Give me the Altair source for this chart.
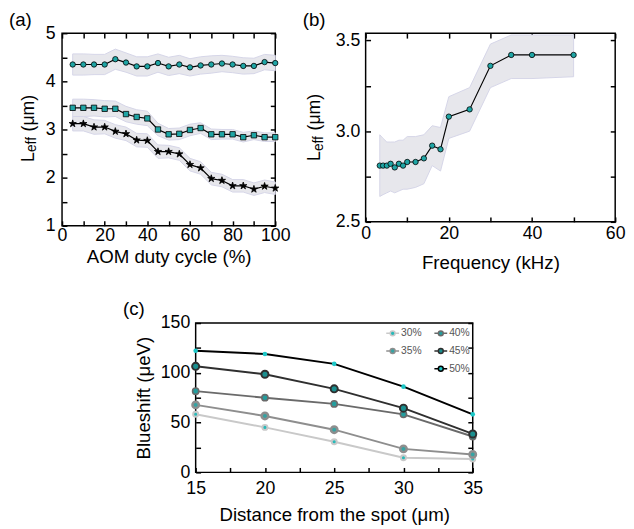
import altair as alt
import pandas as pd

# ---------------- data: panel (a) ----------------
duty = [5, 10, 15, 20, 25, 30, 35, 40, 45, 50, 55, 60, 65, 70, 75, 80, 85, 90, 95, 100]
leff_circle = [4.35, 4.35, 4.35, 4.35, 4.46, 4.39, 4.31, 4.31, 4.38, 4.31,
               4.35, 4.29, 4.33, 4.35, 4.37, 4.35, 4.32, 4.32, 4.40, 4.38]
leff_square = [3.45, 3.45, 3.45, 3.43, 3.43, 3.32, 3.26, 3.23, 3.00, 2.90,
               2.91, 2.99, 3.03, 2.90, 2.90, 2.90, 2.84, 2.88, 2.84, 2.84]
leff_star = [3.12, 3.12, 3.05, 3.05, 2.96, 2.91, 2.78, 2.77, 2.54, 2.54,
             2.49, 2.27, 2.20, 1.98, 1.94, 1.83, 1.83, 1.76, 1.82, 1.78]
err_circle = [0.22, 0.22, 0.21, 0.21, 0.21, 0.20, 0.20, 0.20, 0.19, 0.19,
              0.19, 0.18, 0.18, 0.18, 0.17, 0.17, 0.17, 0.16, 0.16, 0.16]
err_square = [0.18, 0.18, 0.17, 0.17, 0.16, 0.16, 0.15, 0.15, 0.13, 0.12,
              0.12, 0.12, 0.11, 0.11, 0.10, 0.10, 0.10, 0.09, 0.09, 0.09]
err_star = [0.15, 0.15, 0.15, 0.14, 0.14, 0.14, 0.14, 0.14, 0.14, 0.13,
            0.13, 0.13, 0.13, 0.13, 0.13, 0.13, 0.13, 0.13, 0.13, 0.13]

# ---------------- data: panel (b) ----------------
freq = [3.4, 4.2, 5.1, 6, 7, 8, 9, 10, 12, 14, 16, 18, 20, 25, 30, 35, 40, 50]
leff_freq = [2.81, 2.81, 2.81, 2.82, 2.80, 2.82, 2.81, 2.83, 2.83, 2.85,
             2.92, 2.90, 3.08, 3.12, 3.36, 3.42, 3.42, 3.42]
leff_freq_hi = [2.98, 2.96, 2.94, 2.94, 2.94, 2.95, 2.95, 2.97, 2.97, 2.98,
                3.03, 3.02, 3.19, 3.24, 3.48, 3.53, 3.53, 3.53]
leff_freq_lo = [2.64, 2.65, 2.66, 2.67, 2.66, 2.67, 2.68, 2.68, 2.69, 2.71,
                2.81, 2.78, 2.96, 3.00, 3.24, 3.29, 3.29, 3.30]

# ---------------- data: panel (c) ----------------
dist = [15, 20, 25, 30, 35]
shift_30 = [58.3, 45.2, 30.8, 14.7, 13.4]
shift_35 = [67.8, 56.7, 42.9, 23.6, 18.0]
shift_40 = [81.6, 75.0, 68.8, 58.3, 36.0]
shift_45 = [106.5, 98.6, 83.9, 64.5, 38.6]
shift_50 = [122.2, 118.9, 109.0, 86.1, 58.3]
c_labels = ["30%", "35%", "40%", "45%", "50%"]

FONT = "Liberation Sans"
TEAL = "#1fa5a5"
BAND_FILL = "#e7e7ec"
BAND_EDGE = "#d5d5e8"
STAR = ("M0,-1L0.2245,-0.309L0.951,-0.309L0.363,0.118L0.588,0.809L0,0.382"
        "L-0.588,0.809L-0.363,0.118L-0.951,-0.309L-0.2245,-0.309Z")
LEG_SYM = ("M-1,0H-0.38M0.38,0H1M0.38,0A0.38,0.38,0,1,1,-0.38,0"
           "A0.38,0.38,0,1,1,0.38,0Z")
TICK = 5


def axis_main(values, label_expr, title, orient, label_pad, title_pad):
    return alt.Axis(values=values, labelExpr=label_expr, title=title, orient=orient,
                    offset=-TICK, tickSize=TICK, domain=False, grid=False,
                    labelPadding=label_pad, titlePadding=title_pad,
                    labelFlush=False, labelOverlap=False)


def axis_mirror(values, orient):
    return alt.Axis(values=values, labels=False, title=None, orient=orient,
                    offset=-TICK, tickSize=TICK, domain=False, grid=False)


def text_layer(txt, x, y, size, angle=0):
    return alt.Chart(pd.DataFrame({"t": [txt]})).mark_text(
        align="left", baseline="alphabetic", fontSize=size, font=FONT,
        angle=angle, color="black"
    ).encode(x=alt.value(x), y=alt.value(y), text="t:N")


def leff_title(xb, yb):
    # rotated "L_eff (μm)" with a subscript
    return [
        text_layer("L", xb, yb, 18, 270),
        text_layer("eff", xb + 3, yb - 10, 14, 270),
        text_layer("(μm)", xb, yb - 31, 18, 270),
    ]


# ---------------- panel (a) ----------------
xa = alt.Scale(domain=[0, 100], nice=False, zero=False)
ya = alt.Scale(domain=[1, 5], nice=False, zero=False)
xa_vals = list(range(0, 101, 10))
ya_vals = [1, 1.5, 2, 2.5, 3, 3.5, 4, 4.5, 5]

layers_a = []
point_layers_a = []
for vals, errs, shape, fill, size in [(leff_circle, err_circle, "circle", TEAL, 30),
                                      (leff_square, err_square, "square", TEAL, 30),
                                      (leff_star, err_star, STAR, "black", 60)]:
    d = pd.DataFrame({"duty": duty, "leff": vals,
                      "lo": [v - e for v, e in zip(vals, errs)],
                      "hi": [v + e for v, e in zip(vals, errs)]})
    layers_a.append(alt.Chart(d).mark_area(fill=BAND_FILL, stroke=BAND_EDGE, strokeWidth=1).encode(
        x=alt.X("duty:Q", scale=xa, axis=None),
        y=alt.Y("lo:Q", scale=ya, axis=None),
        y2="hi:Q",
    ))
    layers_a.append(alt.Chart(d).mark_line(color="black", strokeWidth=1.2).encode(
        x=alt.X("duty:Q", scale=xa, axis=None),
        y=alt.Y("leff:Q", scale=ya, axis=None),
    ))
    point_layers_a.append(alt.Chart(d).mark_point(
        filled=True, fill=fill, stroke="black", strokeWidth=0.8, opacity=1,
        shape=shape, size=size
    ).encode(
        x=alt.X("duty:Q", scale=xa, axis=None),
        y=alt.Y("leff:Q", scale=ya, axis=None),
    ))

df_a_axis = pd.DataFrame({"duty": duty, "leff": leff_circle})
axes_a = alt.Chart(df_a_axis).mark_point(opacity=0).encode(
    x=alt.X("duty:Q", scale=xa,
            axis=axis_main(xa_vals, "datum.value % 20 == 0 ? datum.label : ''",
                           "AOM duty cycle (%)", "bottom", 1, 3)),
    y=alt.Y("leff:Q", scale=ya,
            axis=axis_main(ya_vals, "datum.value % 1 == 0 ? format(datum.value, 'd') : ''",
                           None, "left", 7, 5)),
)
mir_a = alt.Chart(df_a_axis).mark_point(opacity=0).encode(
    x=alt.X("duty:Q", scale=xa, axis=axis_mirror(xa_vals, "top")),
    y=alt.Y("leff:Q", scale=ya, axis=axis_mirror(ya_vals, "right")),
)
panel_a = alt.layer(
    *layers_a, *point_layers_a, axes_a, mir_a,
    *leff_title(-29, 131),
    text_layer("(a)", -54, -7, 19),
).resolve_axis(x="independent", y="independent").properties(width=217, height=196)

# ---------------- panel (b) ----------------
df_b = pd.DataFrame({"freq": freq, "leff": leff_freq, "lo": leff_freq_lo, "hi": leff_freq_hi})
xb = alt.Scale(domain=[0, 60], nice=False, zero=False)
yb = alt.Scale(domain=[2.5, 3.54], nice=False, zero=False)
xb_vals = list(range(0, 61, 10))
yb_vals = [2.5, 2.75, 3.0, 3.25, 3.5]

band_b = alt.Chart(df_b).mark_area(fill=BAND_FILL, stroke=BAND_EDGE, strokeWidth=1).encode(
    x=alt.X("freq:Q", scale=xb, axis=None),
    y=alt.Y("lo:Q", scale=yb, axis=None),
    y2="hi:Q",
)
line_b = alt.Chart(df_b).mark_line(color="black", strokeWidth=1.2).encode(
    x=alt.X("freq:Q", scale=xb, axis=None),
    y=alt.Y("leff:Q", scale=yb, axis=None),
)
pts_b = alt.Chart(df_b).mark_point(filled=True, fill=TEAL, stroke="black", strokeWidth=0.8,
                                    opacity=1, size=30, shape="circle").encode(
    x=alt.X("freq:Q", scale=xb,
            axis=axis_main(xb_vals, "datum.value % 20 == 0 ? datum.label : ''",
                           "Frequency (kHz)", "bottom", 3, 12)),
    y=alt.Y("leff:Q", scale=yb,
            axis=axis_main(yb_vals, "(datum.value * 2) % 1 == 0 ? format(datum.value, '.1f') : ''",
                           None, "left", 6, 5)),
)
mir_b = alt.Chart(df_b).mark_point(opacity=0).encode(
    x=alt.X("freq:Q", scale=xb, axis=axis_mirror(xb_vals, "top")),
    y=alt.Y("leff:Q", scale=yb, axis=axis_mirror(yb_vals, "right")),
)
panel_b = alt.layer(
    band_b, line_b, pts_b, mir_b,
    *leff_title(-46, 130),
    text_layer("(b)", -64, -7, 19),
).resolve_axis(x="independent", y="independent").properties(width=254, height=192)

# ---------------- panel (c) ----------------
rows = []
for lab, vals in zip(c_labels, [shift_30, shift_35, shift_40, shift_45, shift_50]):
    for xv, v in zip(dist, vals):
        rows.append({"dist": xv, "duty": lab, "shift": v})
df_c = pd.DataFrame(rows)

# legend is laid out column by column: 30%, 35%, (blank) | 40%, 45%, 50%
leg_dom = ["30%", "35%", " ", "40%", "45%", "50%"]
line_cols = ["#c9c9c9", "#8e8e8e", "#ffffff", "#6a6a6a", "#2f2f2f", "#000000"]
fill_cols = ["#27b9b9", "#35a3a3", "#ffffff", "#239d9d", "#1a8f8f", "#1cc7c7"]
marker_size = {"30%": 26, "35%": 42, "40%": 40, "45%": 52, "50%": 22}
marker_stroke = {"30%": 2.0, "35%": 2.6, "40%": 1.6, "45%": 2.0, "50%": 0.0}

xc = alt.Scale(domain=[15, 35], nice=False, zero=False)
yc = alt.Scale(domain=[0, 150], nice=False, zero=False)
xc_vals = [15, 17.5, 20, 22.5, 25, 27.5, 30, 32.5, 35]
yc_vals = [0, 25, 50, 75, 100, 125, 150]
stroke_scale = alt.Scale(domain=leg_dom, range=line_cols)
fill_scale = alt.Scale(domain=leg_dom, range=fill_cols)

leg = alt.Legend(orient="none", legendX=193, legendY=3, columns=2, title=None,
                 symbolType=LEG_SYM, symbolSize=170, symbolStrokeWidth=1.5,
                 labelFont=FONT, labelFontSize=10.5, labelColor="#555555",
                 labelOffset=1, columnPadding=8, rowPadding=5, padding=0,
                 symbolOpacity=1)

line_c = alt.Chart(df_c).mark_line(strokeWidth=2).encode(
    x=alt.X("dist:Q", scale=xc, axis=None),
    y=alt.Y("shift:Q", scale=yc, axis=None),
    stroke=alt.Stroke("duty:N", scale=stroke_scale, legend=leg),
)
pts_c = []
for lab in c_labels:
    pts_c.append(alt.Chart(df_c).transform_filter(alt.datum.duty == lab).mark_point(
        filled=True, opacity=1, size=marker_size[lab], strokeWidth=marker_stroke[lab]
    ).encode(
        x=alt.X("dist:Q", scale=xc, axis=None),
        y=alt.Y("shift:Q", scale=yc, axis=None),
        stroke=alt.Stroke("duty:N", scale=stroke_scale, legend=leg),
        fill=alt.Fill("duty:N", scale=fill_scale, legend=leg),
    ))
axes_c = alt.Chart(df_c).mark_point(opacity=0).encode(
    x=alt.X("dist:Q", scale=xc,
            axis=axis_main(xc_vals, "datum.value % 5 == 0 ? format(datum.value, 'd') : ''",
                           "Distance from the spot (μm)", "bottom", 7, 9)),
    y=alt.Y("shift:Q", scale=yc,
            axis=axis_main(yc_vals, "datum.value % 50 == 0 ? format(datum.value, 'd') : ''",
                           "Blueshift (μeV)", "left", 6, 7)),
)
mir_c = alt.Chart(df_c).mark_point(opacity=0).encode(
    x=alt.X("dist:Q", scale=xc, axis=None),
    y=alt.Y("shift:Q", scale=yc, axis=axis_mirror(yc_vals, "right")),
)
panel_c = alt.layer(
    line_c, *pts_c, axes_c, mir_c,
    text_layer("(c)", -74, -8, 19),
).resolve_axis(x="independent", y="independent").properties(width=282, height=152)

spacer = alt.Chart(pd.DataFrame({"v": [0]})).mark_point(opacity=0).properties(
    width=60, height=20, view=alt.ViewBackground(stroke="transparent"))

ind = dict(stroke="independent", fill="independent")
top = alt.hconcat(panel_a, panel_b, spacing=11)
bottom = alt.hconcat(spacer, panel_c, spacing=0).resolve_scale(**ind).resolve_legend(**ind)

chart = alt.vconcat(top, bottom, spacing=26).resolve_scale(**ind).resolve_legend(**ind).properties(
    padding={"left": 0, "top": -2, "right": 0, "bottom": 0}
).configure(font=FONT).configure_view(
    stroke="black", strokeWidth=1.5
).configure_axis(
    labelFont=FONT, titleFont=FONT, labelFontSize=18, titleFontSize=19,
    titleFontWeight="normal", labelColor="black", titleColor="black",
    tickColor="black", tickWidth=1.5,
)

chart.save("out.html", embed_options={"renderer": "svg", "actions": False})
